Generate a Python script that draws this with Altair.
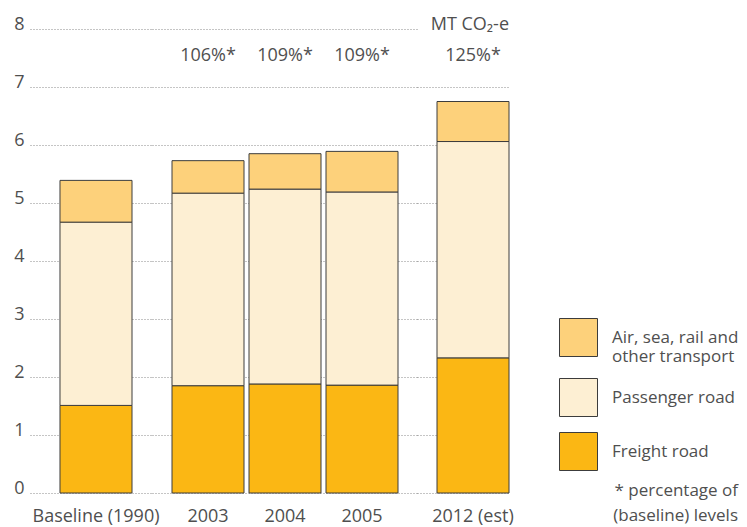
import altair as alt
import pandas as pd

# ---- data ----
categories = ["Baseline (1990)", "2003", "2004", "2005", "2012 (est)"]
freight = [1.51, 1.85, 1.88, 1.86, 2.33]
passenger = [3.16, 3.32, 3.36, 3.33, 3.73]
other = [0.72, 0.56, 0.61, 0.70, 0.69]
pct_labels = ["", "106%*", "109%*", "109%*", "125%*"]

series = ["Air, sea, rail and other transport", "Passenger road", "Freight road"]
colors = ["#FDD17B", "#FDEFD3", "#FBB714"]
y_ticks = [0, 1, 2, 3, 4, 5, 6, 7, 8]
unit_label = "MT CO\u2082-e"
footnote = ["* percentage of", "(baseline) levels"]

FONT = "Open Sans"
TXT = "#4f4f4f"
FS = 18
LFS = 17

rows = []
for i, c in enumerate(categories):
    rows.append(dict(category=c, series="Freight road", value=freight[i], ord=0))
    rows.append(dict(category=c, series="Passenger road", value=passenger[i], ord=1))
    rows.append(dict(category=c, series=series[0], value=other[i], ord=2))
df = pd.DataFrame(rows)
pct_df = pd.DataFrame({"category": categories, "pct": pct_labels})


def panel(cats, width, pin, pout, align, first=False, grid_vals=y_ticks, legend=None, extra=None):
    xscale = alt.Scale(domain=cats, paddingInner=pin, paddingOuter=pout, align=align)
    x_enc = alt.X("category:N", scale=xscale, sort=cats,
                  axis=alt.Axis(title=None, labelAngle=0, ticks=False, domain=False,
                                grid=False, labelFont=FONT, labelFontSize=FS,
                                labelColor=TXT, labelPadding=14))
    y_axis = alt.Axis(values=grid_vals, title=None, ticks=False, domain=False,
                      labels=first, labelFont=FONT, labelFontSize=FS, labelColor=TXT,
                      labelBaseline="alphabetic", labelPadding=6,
                      grid=True, gridDash=[1, 2], gridColor="#8a8a8a", gridWidth=1)
    bars = alt.Chart(df[df["category"].isin(cats)]).mark_bar(
        stroke="#3c3c3c", strokeWidth=1
    ).encode(
        x=x_enc,
        y=alt.Y("value:Q", stack="zero", scale=alt.Scale(domain=[0, 8], nice=False), axis=y_axis),
        color=alt.Color("series:N", scale=alt.Scale(domain=series, range=colors),
                        legend=legend),
        order=alt.Order("ord:Q"),
    )
    txt = alt.Chart(pct_df[pct_df["category"].isin(cats)]).mark_text(
        font=FONT, fontSize=FS, color=TXT, baseline="alphabetic", align="center"
    ).encode(x=x_enc, y=alt.value(32), text="pct:N")
    layers = [bars, txt]
    if extra is not None:
        layers.append(extra)
    return alt.layer(*layers).properties(width=width, height=464)


legend = alt.Legend(
    orient="none", legendX=142, legendY=289, padding=0,
    symbolType="square", symbolSize=1444, symbolStrokeColor="#3c3c3c",
    symbolStrokeWidth=1, symbolOpacity=1,
    labelFont=FONT, labelFontSize=LFS, labelColor=TXT, labelOffset=14,
    labelLimit=300, rowPadding=11,
    labelExpr="datum.label == 'Air, sea, rail and other transport' ? ['Air, sea, rail and', 'other transport'] : datum.label",
    title=footnote, titleOrient="bottom", titleFont=FONT, titleFontSize=LFS,
    titleFontWeight="normal", titleColor=TXT, titleAnchor="end", titleAlign="right",
    titlePadding=10, titleLineHeight=25,
)

unit_txt = alt.Chart(pd.DataFrame({"t": [unit_label]})).mark_text(
    font=FONT, fontSize=FS, color=TXT, baseline="alphabetic", align="right"
).encode(x=alt.value(92), y=alt.value(1), text="t:N")

pA = panel(categories[:1], 122, 0, 0.347, 0.6, first=True)
pB = panel(categories[1:4], 265, 0.065, 0.2533, 0.513)
pC = panel(categories[4:], 92, 0, 0.1389, 1.0, grid_vals=y_ticks[:-1], legend=legend, extra=unit_txt)

chart = alt.hconcat(pA, pB, pC, spacing=0, bounds="flush").resolve_scale(
    color="independent"
).resolve_legend(color="independent").properties(
    padding={"left": 5, "top": 7, "right": 0, "bottom": 0},
    background="white",
).configure_view(stroke=None)

chart.save("out.html", embed_options={"renderer": "svg", "actions": False})
